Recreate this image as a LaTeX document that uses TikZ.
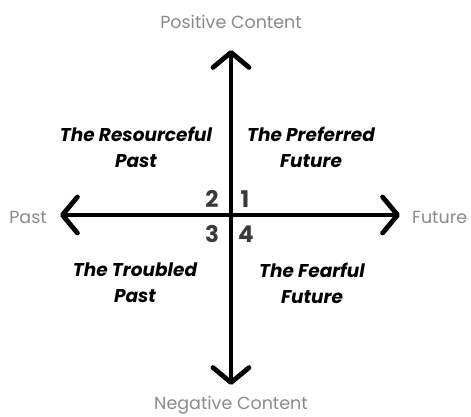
\documentclass[tikz,border=0pt]{standalone}
\usepackage{fontspec}
\setmainfont{Poppins}
\usetikzlibrary{arrows.meta}
\definecolor{axislabel}{HTML}{8A8A8A}
\definecolor{numgray}{HTML}{3A3A3A}
\tikzset{
  barb/.tip={Straight Barb[length=15pt,width=36pt,line cap=round,line join=round]},
  axisline/.style={line width=4.8pt, line cap=round, barb-barb},
  axislbl/.style={text=axislabel, font=\fontsize{17.5}{20}\selectfont, inner sep=0pt},
  quadlbl/.style={font=\fontsize{18.5}{26}\selectfont\bfseries\itshape, align=center, inner sep=0pt},
  numlbl/.style={text=numgray, font=\fontsize{23}{24}\selectfont\bfseries, inner sep=0pt}
}
\begin{document}
\begin{tikzpicture}[x=1pt,y=-1pt]
  \useasboundingbox (0,0) rectangle (471,416);
  % axis ends
  \coordinate (top) at (231,50);
  \coordinate (bottom) at (231,385);
  \coordinate (left) at (60,215);
  \coordinate (right) at (400,215);
  \draw[axisline] (left) -- (right);
  \draw[axisline] (bottom) -- (top);
  % axis labels
  \node[axislbl] (pos) at (231,22) {Positive Content};
  \node[axislbl] (neg) at (231,405) {Negative Content};
  \node[axislbl, anchor=east] (past) at (47,217) {Past};
  \node[axislbl, anchor=west] (fut) at (412,217) {Future};
  % quadrant labels
  \node[quadlbl] (q2) at (136,147) {The Resourceful\\Past};
  \node[quadlbl] (q1) at (311,147) {The Preferred\\Future};
  \node[quadlbl] (q3) at (135,283) {The Troubled\\Past};
  \node[quadlbl] (q4) at (312,283) {The Fearful\\Future};
  % quadrant numbers
  \node[numlbl] (n2) at (212,199) {2};
  \node[numlbl] (n1) at (245,199) {1};
  \node[numlbl] (n3) at (212,234) {3};
  \node[numlbl] (n4) at (246,234) {4};
\end{tikzpicture}
\end{document}
